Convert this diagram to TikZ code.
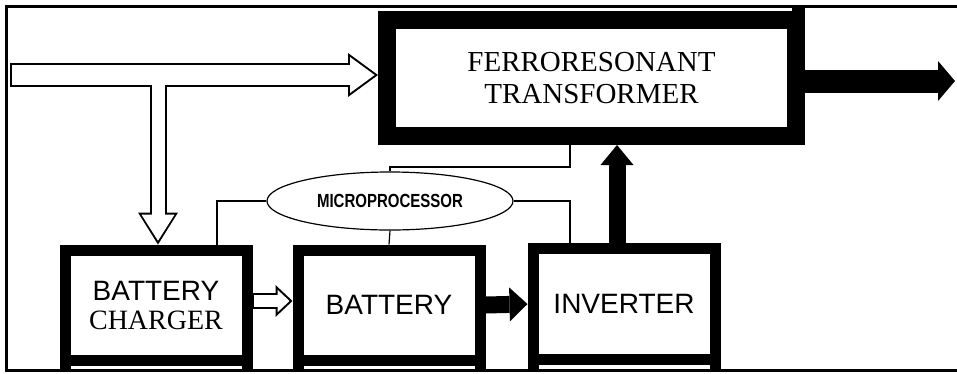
\documentclass[tikz,border=0pt]{standalone}
\usepackage{fontspec}
\usepackage{graphicx}
\setmainfont{Liberation Serif}
\setsansfont{Liberation Sans}
\usetikzlibrary{arrows.meta,shapes.geometric}

\tikzset{
	box/.style={draw, line width=11pt, minimum width=182pt, minimum height=110pt, inner sep=0pt, align=center, font=\fontsize{28}{29}\selectfont},
	xfbox/.style={draw, line width=18pt, minimum width=409pt, minimum height=116pt, inner sep=0pt, align=center, font=\fontsize{29}{32}\selectfont},
	wire/.style={line width=1.2pt},
	fat/.style n args={3}{line width=#1, -{Triangle[length=#2, width=#3, line width'=0pt]}},
}

\begin{document}
\begin{tikzpicture}[x=1pt,y=-1pt]
		\useasboundingbox (0,0) rectangle (957,373);
		\draw[line width=3pt] (957,6.5) -- (6.5,6.5) -- (6.5,370.5) -- (957,370.5);
		\node[xfbox] (xfmr) at (591.5,78) {FERRORESONANT\\TRANSFORMER};
		\draw[line width=13pt] ([xshift=-6.5pt]xfmr.north east) -- ++(0,-6);
		\node[draw, ellipse, line width=1.2pt, minimum width=246pt, minimum height=58pt, inner sep=0pt] (mpu) at (390,201) {\sffamily\bfseries\fontsize{19}{19}\selectfont\scalebox{0.79}[1]{MICROPROCESSOR}};
		\node[box] (chg) at (156,305) {{\sffamily BATTERY}\\CHARGER};
		\node[box, font=\sffamily\fontsize{28}{29}\selectfont] (bat) at (389,305) {BATTERY};
		\node[box, minimum height=111pt, font=\sffamily\fontsize{28}{29}\selectfont] (inv) at (624,304) {INVERTER};
		\foreach \n in {chg,bat,inv}{
			\draw[line width=11pt] ([xshift=5.5pt]\n.south west) -- ++(0,5);
			\draw[line width=11pt] ([xshift=-5.5pt]\n.south east) -- ++(0,5);
		}
		\coordinate (in) at (10,75);
		\coordinate (tee) at (158,75);
		\coordinate (sense) at (570,167);
		\coordinate (out) at (955,81);
		\draw[wire] (mpu.north) |- (sense) -- (sense |- xfmr.south);
		\draw[wire] (mpu.east) -| (sense |- inv.north);
		\draw[wire] (mpu.west) -| ([xshift=61pt]chg.north);
		\draw[wire] (mpu.south) -- (bat.north);
		\draw[fat={24pt}{30pt}{44pt}] (in) -- (in -| xfmr.west);
		\draw[fat={17pt}{32pt}{40pt}] (tee) -- (tee |- chg.north);
		\draw[fat={16pt}{17pt}{32pt}] ([yshift=4pt]chg.east) -- ([yshift=4pt]bat.west);
		\draw[fat={20pt}{24.6pt}{36pt}, white, shorten <=2pt, shorten >=3.4pt] (in) -- (in -| xfmr.west);
		\draw[fat={13pt}{26pt}{33pt}, white, shorten >=3.8pt] (tee) -- (tee |- chg.north);
		\draw[fat={12pt}{12pt}{22.6pt}, white, shorten <=1pt, shorten >=3pt] ([yshift=4pt]chg.east) -- ([yshift=4pt]bat.west);
		\draw[fat={17pt}{18pt}{34pt}] (bat.east) -- (inv.west);
		\draw[fat={17pt}{20pt}{33pt}] ([xshift=-7pt]inv.north) -- ([xshift=-7pt]inv.north |- xfmr.south);
		\draw[fat={23pt}{17pt}{40pt}] (xfmr.east |- out) -- (out);
	\end{tikzpicture}
\end{document}
